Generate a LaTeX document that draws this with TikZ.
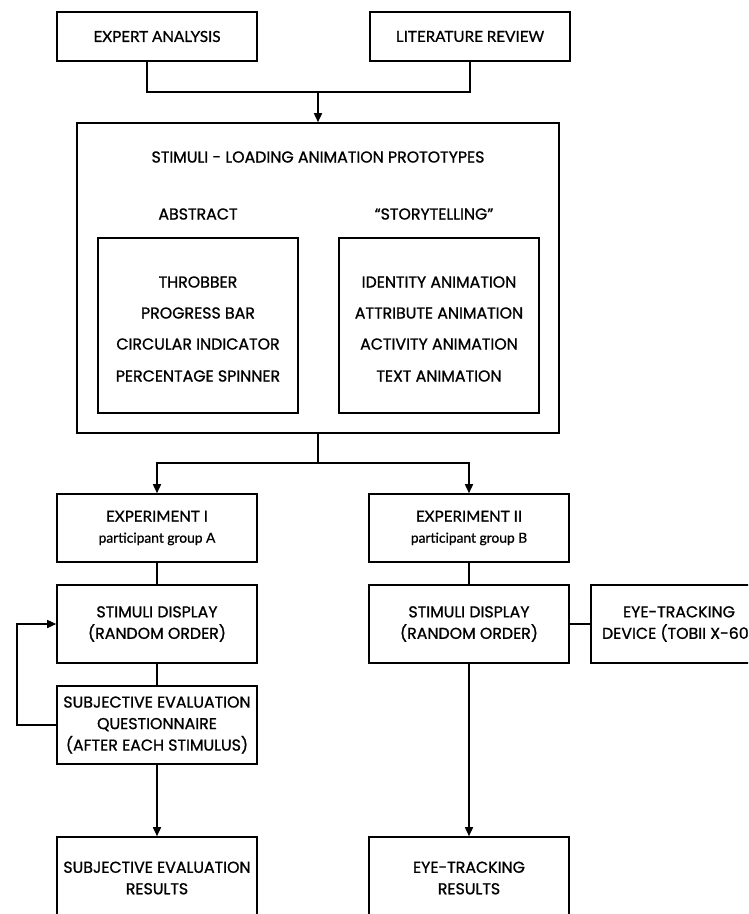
\documentclass[tikz,border=0pt]{standalone}
\usepackage{fontspec}
\setmainfont{Poppins}
\newfontfamily\geo[FakeBold=1]{Poppins}
\newfontfamily\hum[FakeBold=0.8]{Lato}
\usetikzlibrary{arrows.meta}
\tikzset{
  ln/.style={line width=1.6pt},
  arr/.style={ln,-{Triangle[length=9pt,width=8pt]}},
  bx/.style={draw,ln,inner sep=0pt,align=center,minimum width=200pt,font=\geo\fontsize{15.8}{21.5}\selectfont},
  hbx/.style={bx,font=\hum\fontsize{15.2}{21}\selectfont},
  txt/.style={inner sep=0pt,align=center,font=\geo\fontsize{15.8}{21.5}\selectfont},
}
\newcommand\smalltxt[1]{{\fontsize{13.8}{21}\selectfont #1}}
\begin{document}
\begin{tikzpicture}[x=1pt,y=-1pt]
\clip (0,0) rectangle (748,914);
\fill[white] (0,0) rectangle (748,914);
% top
\node[hbx,minimum height=49pt] (ea) at (157,36.5) {EXPERT ANALYSIS};
\node[hbx,minimum height=49pt] (lr) at (470,36.5) {LITERATURE REVIEW};
\node[draw,ln,minimum width=482pt,minimum height=310pt,inner sep=0pt] (main) at (318,278) {};
\coordinate (j1) at (318,92);
\draw[ln] ([xshift=-10pt]ea.south) |- (j1) -| (lr.south);
\draw[arr] (j1) -- (main.north);
% inside main
\node[txt] (title) at (318,157) {STIMULI - LOADING ANIMATION PROTOTYPES};
\node[txt] (abs) at (198,214) {ABSTRACT};
\node[txt] (sty) at (434,214) {“STORYTELLING”};
\node[bx,minimum height=175pt] (ib1) at (198,325.5) {};
\node[bx,minimum height=175pt] (ib2) at (439,325.5) {};
\node[txt] (a1) at (198,282) {THROBBER};
\node[txt] (a2) at (198,313) {PROGRESS BAR};
\node[txt] (a3) at (198,344) {CIRCULAR INDICATOR};
\node[txt] (a4) at (198,376) {PERCENTAGE SPINNER};
\node[txt] (b1) at (439,282) {IDENTITY ANIMATION};
\node[txt] (b2) at (439,313) {ATTRIBUTE ANIMATION};
\node[txt] (b3) at (439,344) {ACTIVITY ANIMATION};
\node[txt] (b4) at (439,376) {TEXT ANIMATION};
% experiments
\node[hbx,minimum height=68pt] (e1) at (157,528) {EXPERIMENT I\\\smalltxt{participant group A}};
\node[hbx,minimum height=68pt] (e2) at (469,528) {EXPERIMENT II\\\smalltxt{participant group B}};
\coordinate (j2) at (318,463);
\draw[ln] (main.south) -- (j2);
\draw[arr] (j2) -| (e1.north);
\draw[arr] (j2) -| (e2.north);
% stimuli display
\node[bx,minimum height=78pt] (s1) at (157,624) {STIMULI DISPLAY\\(RANDOM ORDER)};
\node[bx,minimum height=78pt] (s2) at (469,624) {STIMULI DISPLAY\\(RANDOM ORDER)};
\node[bx,minimum width=176pt,minimum height=78pt] (et) at (679,624) {EYE-TRACKING\\DEVICE (TOBII X-60)};
\draw[ln] (e1.south) -- (s1.north);
\draw[ln] (e2.south) -- (s2.north);
\draw[ln] (s2.east) -- (et.west);
% questionnaire
\node[bx,minimum height=78pt] (q1) at (157,725) {SUBJECTIVE EVALUATION\\QUESTIONNAIRE\\(AFTER EACH STIMULUS)};
\draw[ln] (s1.south) -- (q1.north);
\coordinate (lp) at (17,700);
\draw[arr] (q1.west) -- (q1.west -| lp) |- (s1.west);
% results
\node[bx,minimum height=82pt] (r1) at (157,878) {SUBJECTIVE EVALUATION\\RESULTS};
\node[bx,minimum height=82pt] (r2) at (469,878) {EYE-TRACKING\\RESULTS};
\draw[arr] (q1.south) -- (r1.north);
\draw[arr] (s2.south) -- (r2.north);
\end{tikzpicture}
\end{document}
